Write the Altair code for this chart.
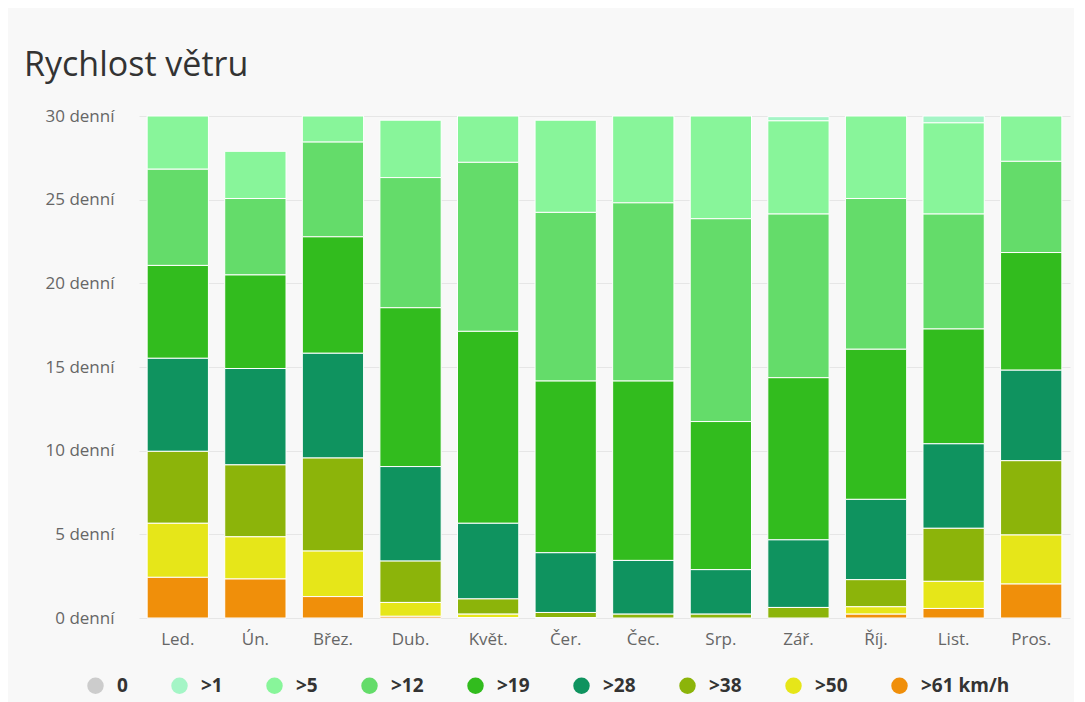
import altair as alt
import pandas as pd

months = ["Led.", "Ún.", "Břez.", "Dub.", "Květ.", "Čer.", "Čec.", "Srp.", "Zář.", "Říj.", "List.", "Pros."]
categories = ["0", ">1", ">5", ">12", ">19", ">28", ">38", ">50", ">61 km/h"]
colors = ["#cccccc", "#a4f5c6", "#88f59a", "#64dc6a", "#32bc1e", "#0f935f", "#8cb40a", "#e6e619", "#f08f0a"]

v0 = [0, 0, 0, 0, 0, 0, 0, 0, 0, 0, 0, 0]
v1 = [0, 0, 0, 0, 0, 0, 0, 0, 0.25, 0, 0.41, 0]
v5 = [3.18, 2.82, 1.56, 3.43, 2.77, 5.51, 5.19, 6.14, 5.57, 4.93, 5.45, 2.71]
v12 = [5.75, 4.57, 5.66, 7.78, 10.10, 10.08, 10.65, 12.12, 9.78, 9.01, 6.87, 5.45]
v19 = [5.55, 5.59, 6.96, 9.49, 11.47, 10.26, 10.72, 8.85, 9.69, 8.97, 6.86, 7.03]
v28 = [5.56, 5.76, 6.26, 5.65, 4.52, 3.57, 3.21, 2.66, 4.04, 4.80, 5.05, 5.41]
v38 = [4.30, 4.30, 5.56, 2.47, 0.91, 0.31, 0.23, 0.23, 0.63, 1.62, 3.17, 4.44]
v50 = [3.23, 2.52, 2.72, 0.83, 0.20, 0.02, 0, 0, 0, 0.44, 1.62, 2.93]
v61 = [2.43, 2.33, 1.28, 0.10, 0.03, 0, 0, 0, 0, 0.23, 0.57, 2.03]

series = [v0, v1, v5, v12, v19, v28, v38, v50, v61]

rows = []
for rank, (cat, vals) in enumerate(zip(categories, series)):
    for m, v in zip(months, vals):
        if v > 0:
            rows.append({"month": m, "cat": cat, "rank": rank, "days": v})
df = pd.DataFrame(rows)

FONT = "Open Sans"

chart = alt.Chart(df).mark_bar(stroke="white", strokeWidth=1).encode(
    x=alt.X("month:N", sort=months, title=None,
            scale=alt.Scale(paddingInner=0.21, paddingOuter=0.105),
            axis=alt.Axis(labelAngle=0, labelFontSize=17, labelColor="#666666",
                          labelFont=FONT, ticks=False, domain=False, labelPadding=13)),
    y=alt.Y("days:Q", title=None,
            scale=alt.Scale(domain=[0, 30], nice=False),
            axis=alt.Axis(values=[0, 5, 10, 15, 20, 25, 30],
                          labelExpr="datum.value + ' denní'",
                          labelFontSize=17, labelColor="#666666", labelFont=FONT,
                          ticks=False, domain=False, labelPadding=25,
                          gridColor="#e6e6e6")),
    color=alt.Color("cat:N", scale=alt.Scale(domain=categories, range=colors),
                    legend=alt.Legend(title=None, orient="none", direction="horizontal",
                                      legendX=-53, legendY=560,
                                      symbolType="circle", symbolSize=270,
                                      symbolStrokeWidth=0,
                                      labelFontSize=19, labelFontWeight="bold",
                                      labelColor="#333333", labelFont=FONT,
                                      columnPadding=42, symbolOffset=0, labelOffset=12)),
    order=alt.Order("rank:Q", sort="descending"),
).properties(
    width=931, height=502,
    title=alt.TitleParams("Rychlost větru", anchor="start", frame="group", dx=-115, offset=24,
                          fontSize=34, font=FONT, fontWeight="normal", color="#333333"),
    background="#f8f8f8",
    padding={"left": 131, "top": 108, "right": 4, "bottom": 84},
    autosize=alt.AutoSizeParams(type="none"),
).configure_view(stroke=None)

chart.save("out.html", embed_options={"renderer": "svg", "actions": False})
